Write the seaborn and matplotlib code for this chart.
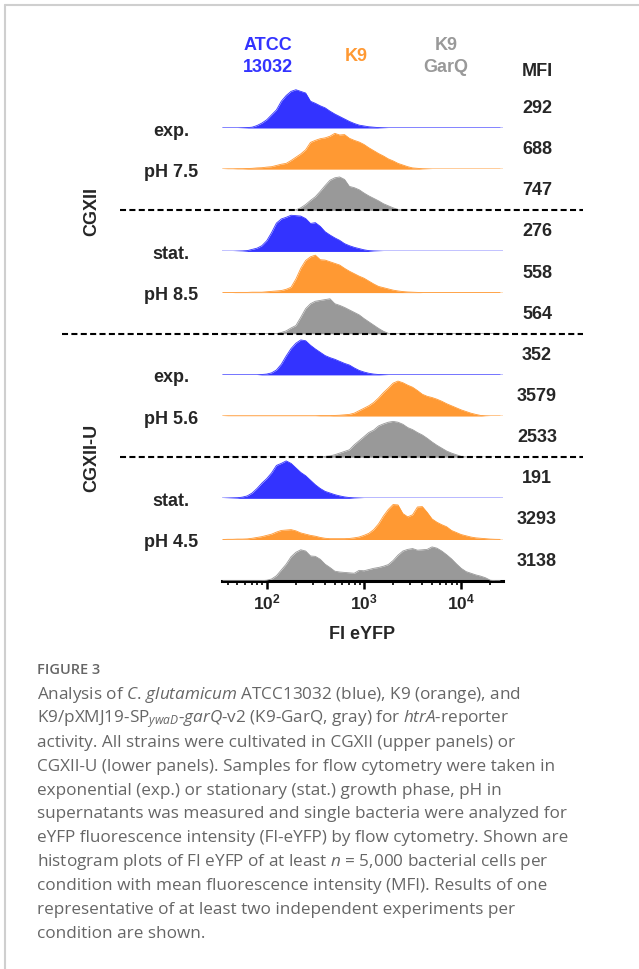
import numpy as np
import matplotlib
matplotlib.use('Agg')
import matplotlib.pyplot as plt
import seaborn as sns
from matplotlib.lines import Line2D

# log10(FI eYFP) bin centres read along the x axis
log_fi = [1.55, 1.60, 1.65, 1.70, 1.75, 1.80, 1.85, 1.90, 1.95, 2.00,
          2.05, 2.10, 2.15, 2.20, 2.25, 2.30, 2.35, 2.40, 2.45, 2.50,
          2.55, 2.60, 2.65, 2.70, 2.75, 2.80, 2.85, 2.90, 2.95, 3.00,
          3.05, 3.10, 3.15, 3.20, 3.25, 3.30, 3.35, 3.40, 3.45, 3.50,
          3.55, 3.60, 3.65, 3.70, 3.75, 3.80, 3.85, 3.90, 3.95, 4.00,
          4.05, 4.10, 4.15, 4.20, 4.25, 4.30, 4.35, 4.40]

# histogram heights (% of one row height)
cgxii_exp_atcc = [0, 0, 0, 0, 0.5, 1, 2, 6, 12, 20, 32, 44, 65, 79, 89, 93, 89, 85, 65, 60,
                  54, 49, 41, 34, 28, 22, 16, 11, 7, 5, 3, 2, 1, 0.5, 0, 0, 0, 0, 0, 0,
                  0, 0, 0, 0, 0, 0, 0, 0, 0, 0, 0, 0, 0, 0, 0, 0, 0, 0]
cgxii_exp_k9 = [0, 0.5, 0.5, 1, 1, 1.5, 2, 3, 3.5, 5, 6, 9, 12, 14, 21, 29, 37, 47, 65, 70,
                74, 76, 80, 87, 83, 84, 75, 70, 66, 60, 52, 45, 38, 32, 25, 20, 14, 10, 6, 3,
                2, 1, 0.5, 0, 0, 0, 0, 0, 0, 0, 0, 0, 0, 0, 0, 0, 0, 0]
cgxii_exp_garq = [0, 0, 0, 0, 0, 0, 0, 0, 0, 0, 0, 0, 0, 0, 0, 1, 6, 14, 24, 33,
                  46, 60, 73, 79, 81, 75, 58, 55, 50, 42, 35, 29, 23, 16, 11, 6, 2, 0.5, 0, 0,
                  0, 0, 0, 0, 0, 0, 0, 0, 0, 0, 0, 0, 0, 0, 0, 0, 0, 0]
cgxii_stat_atcc = [0, 0, 0, 0.5, 1, 2, 5, 8, 14, 26, 46, 69, 79, 83, 88, 87, 86, 80, 68, 70,
                   61, 48, 40, 33, 27, 19, 14, 10, 7, 4, 2, 1, 0.5, 0, 0, 0, 0, 0, 0, 0,
                   0, 0, 0, 0, 0, 0, 0, 0, 0, 0, 0, 0, 0, 0, 0, 0, 0, 0]
cgxii_stat_k9 = [0, 0, 0, 0.5, 0.5, 0.5, 1, 1, 1, 2, 3, 4, 5, 8, 13, 33, 59, 78, 87, 91,
                 80, 79, 75, 71, 67, 59, 52, 46, 40, 35, 28, 21, 15, 12, 9, 6, 4, 2.5, 1.5, 1,
                 0.5, 0, 0, 0, 0, 0, 0, 0, 0, 0, 0, 0, 0, 0, 0, 0, 0, 0]
cgxii_stat_garq = [0, 0, 0, 0, 0, 0, 0, 0, 0, 0, 0, 0, 3, 7, 14, 20, 40, 61, 73, 79,
                   81, 83, 85, 73, 69, 64, 58, 52, 46, 37, 29, 21, 13, 6, 1, 0, 0, 0, 0, 0,
                   0, 0, 0, 0, 0, 0, 0, 0, 0, 0, 0, 0, 0, 0, 0, 0, 0, 0]
cgxiiu_exp_atcc = [0, 0, 0, 0, 0, 0, 0, 0, 1, 2, 5, 12, 26, 46, 64, 77, 85, 83, 72, 63,
                   55, 47, 42, 38, 33, 28, 24, 17, 11, 7, 4, 2, 1, 0.5, 0, 0, 0, 0, 0, 0,
                   0, 0, 0, 0, 0, 0, 0, 0, 0, 0, 0, 0, 0, 0, 0, 0, 0, 0]
cgxiiu_exp_k9 = [0, 0.5, 0.5, 0.5, 0.5, 0.5, 0.5, 0.5, 0.5, 0.5, 0.5, 0.5, 0.5, 0.5, 0.5, 0.5, 0.5, 0.5, 0.5, 0.5,
                 1, 1, 1, 1.5, 2, 3, 4, 7, 13, 19, 25, 33, 44, 57, 68, 80, 85, 81, 75, 70,
                 62, 53, 48, 45, 41, 36, 30, 25, 20, 15, 11, 7, 4, 1.5, 0.5, 0, 0, 0]
cgxiiu_exp_garq = [0, 0, 0, 0, 0, 0, 0, 0, 0, 0, 0, 0, 0, 0, 0, 0, 0, 0, 0, 0,
                   0, 2, 3, 6, 10, 14, 18, 30, 40, 50, 60, 66, 76, 81, 85, 87, 85, 80, 72, 67,
                   60, 54, 46, 37, 29, 22, 15, 10, 6, 2, 0.5, 0, 0, 0, 0, 0, 0, 0]
cgxiiu_stat_atcc = [0, 0.5, 1, 1.5, 3, 6, 13, 24, 37, 48, 62, 80, 85, 91, 85, 74, 63, 55, 44, 33,
                    24, 17, 13, 9, 6, 3.5, 2, 1, 0.5, 0, 0, 0, 0, 0, 0, 0, 0, 0, 0, 0,
                    0, 0, 0, 0, 0, 0, 0, 0, 0, 0, 0, 0, 0, 0, 0, 0, 0, 0]
cgxiiu_stat_k9 = [0, 0.5, 0.5, 1, 1, 1.5, 3, 5, 7, 10, 13, 18, 22, 23, 24, 21, 16, 13, 10, 8,
                  5, 3, 2, 2, 2, 2, 2.5, 4, 6, 10, 15, 24, 38, 57, 73, 85, 84, 63, 55, 60,
                  79, 80, 66, 50, 42, 36, 31, 22, 17, 12, 9, 6, 4, 3, 2, 1, 0.5, 0.3]
cgxiiu_stat_garq = [0, 0, 0, 0, 0, 0, 0, 0, 0, 1, 4, 12, 26, 40, 58, 69, 75, 72, 60, 59,
                    52, 40, 32, 23, 21, 20, 19, 18, 25, 24, 27, 30, 32, 35, 39, 49, 62, 72, 76, 78,
                    74, 75, 76, 82, 79, 72, 63, 53, 41, 30, 22, 18, 14, 11, 7, 1, 0, 0]

hist_rows = [cgxii_exp_atcc, cgxii_exp_k9, cgxii_exp_garq,
             cgxii_stat_atcc, cgxii_stat_k9, cgxii_stat_garq,
             cgxiiu_exp_atcc, cgxiiu_exp_k9, cgxiiu_exp_garq,
             cgxiiu_stat_atcc, cgxiiu_stat_k9, cgxiiu_stat_garq]
row_strain = ['atcc', 'k9', 'garq'] * 4
mfi = [292, 688, 747, 276, 558, 564, 352, 3579, 2533, 191, 3293, 3138]
phase_labels = ['exp.', 'pH 7.5', 'stat.', 'pH 8.5', 'exp.', 'pH 5.6', 'stat.', 'pH 4.5']
media = ['CGXII', 'CGXII-U']
strain_names = {'atcc': 'ATCC\n13032', 'k9': 'K9', 'garq': 'K9\nGarQ'}
xtick_vals = [100, 1000, 10000]

colors = {'atcc': '#3333ff', 'k9': '#ff9933', 'garq': '#999999'}
base_colors = {'atcc': '#b8b8ff', 'k9': '#ffdcb8', 'garq': None}

sns.set_style('white')
plt.rcParams['font.family'] = ['Liberation Sans', 'DejaVu Sans']
plt.rcParams['mathtext.fontset'] = 'custom'
plt.rcParams['mathtext.rm'] = 'Open Sans'
plt.rcParams['mathtext.it'] = 'Open Sans:italic'
plt.rcParams['mathtext.bf'] = 'Liberation Sans:bold'

W, H = 639, 970
fig = plt.figure(figsize=(W / 100, H / 100), dpi=100)
FS = 13


def fx(x):
    return x / W


def fy(y):
    return 1 - y / H


first_base = 129
step = 41.15
ax_l, ax_r = 222, 503
ax_w = ax_r - ax_l
x = 10 ** np.array(log_fi)

axes = []
for i, (vals, strain) in enumerate(zip(hist_rows, row_strain)):
    base = first_base + i * step
    ax = fig.add_axes([fx(ax_l), fy(base), ax_w / W, step / H])
    ax.patch.set_alpha(0)
    if base_colors[strain]:
        ax.axhline(0, color=base_colors[strain], lw=1.2, zorder=0)
    ax.fill_between(x, vals, color=colors[strain], lw=0, zorder=2)
    sns.lineplot(x=x, y=vals, ax=ax, color=colors[strain], lw=0.6, zorder=3)
    ax.set_xscale('log')
    ax.set_xlim(10 ** 1.54, 10 ** 4.43)
    ax.set_ylim(0, 100)
    ax.set_yticks([])
    sns.despine(ax=ax, left=True, bottom=True)
    if i < 11:
        ax.set_xticks([])
        ax.minorticks_off()
    axes.append(ax)

    # MFI value for the row
    fig.text(fx(537), fy(base - 20.5), str(mfi[i]), ha='center', va='center',
             fontsize=FS, fontweight='bold')

# dashed separators between panels
for i, left_px in zip([2, 5, 8], [120, 62, 120]):
    axes[i].axhline(0, xmin=(left_px - ax_l) / ax_w, xmax=(583 - ax_l) / ax_w,
                    color='black', lw=1.5, ls=(0, (2.9, 1.6)), clip_on=False, zorder=6)

# bottom axis
ax = axes[-1]
ax.spines['bottom'].set_visible(True)
ax.spines['bottom'].set_linewidth(2.2)
ax.spines['bottom'].set_color('black')
ax.set_xticks(xtick_vals)
ax.set_xticklabels([r'$\mathbf{10^{%d}}$' % int(np.log10(v)) for v in xtick_vals])
ax.tick_params(axis='x', which='major', length=5.5, width=1.8, color='black',
               labelsize=12.5, pad=2, direction='out', bottom=True)
ax.tick_params(axis='x', which='minor', length=3, width=1.2, color='black',
               direction='out', bottom=True)
ax.set_xlabel('FI eYFP', fontsize=FS, fontweight='bold', labelpad=10)

# condition labels
label_rows = [0, 1, 3, 4, 6, 7, 9, 10]
for r, lab in zip(label_rows, phase_labels):
    fig.text(fx(171), fy(first_base + r * step + 2), lab, ha='center', va='center',
             fontsize=FS, fontweight='bold')

# medium labels
for g, med in enumerate(media):
    top = first_base + (6 * g - 1) * step
    bot = first_base + (6 * g + 5) * step
    fig.text(fx(92), fy((top + bot) / 2), med, ha='center', va='center',
             rotation=90, fontsize=FS, fontweight='bold')

# strain header
for strain, xc in zip(['atcc', 'k9', 'garq'], [268, 356, 446]):
    fig.text(fx(xc), fy(56.5), strain_names[strain], ha='center', va='center',
             color=colors[strain], fontsize=FS, fontweight='bold', linespacing=1.45)
fig.text(fx(537), fy(71), 'MFI', ha='center', va='center', fontsize=FS, fontweight='bold')

# frame
fig.add_artist(Line2D([fx(4.5), fx(4.5)], [0, fy(5.5)], transform=fig.transFigure,
                      color='#cfcfcf', lw=1.5))
fig.add_artist(Line2D([fx(4.5), 1], [fy(5.5), fy(5.5)], transform=fig.transFigure,
                      color='#cfcfcf', lw=1.5))

# caption
cap_color = '#666666'
fig.text(fx(37), fy(670), 'FIGURE 3', ha='left', va='center', fontsize=10.5,
         color=cap_color, family='Open Sans', fontweight='semibold')
caption = [
    r'Analysis of $\mathit{C.\!}$ $\mathit{glutamicum}$ ATCC13032 (blue), K9 (orange), and',
    r'K9/pXMJ19-SP$_{\mathit{ywaD}}$-$\mathit{garQ}$-v2 (K9-GarQ, gray) for $\mathit{htrA}$-reporter',
    'activity. All strains were cultivated in CGXII (upper panels) or',
    'CGXII-U (lower panels). Samples for flow cytometry were taken in',
    'exponential (exp.) or stationary (stat.) growth phase, pH in',
    'supernatants was measured and single bacteria were analyzed for',
    'eYFP fluorescence intensity (FI-eYFP) by flow cytometry. Shown are',
    r'histogram plots of FI eYFP of at least $\mathit{n}$ = 5,000 bacterial cells per',
    'condition with mean fluorescence intensity (MFI). Results of one',
    'representative of at least two independent experiments per',
    'condition are shown.',
]
for k, line in enumerate(caption):
    fig.text(fx(37), fy(695 + k * 23.9), line, ha='left', va='center', fontsize=12.3,
             color=cap_color, family='Open Sans')

fig.savefig('out.png', dpi=100)
